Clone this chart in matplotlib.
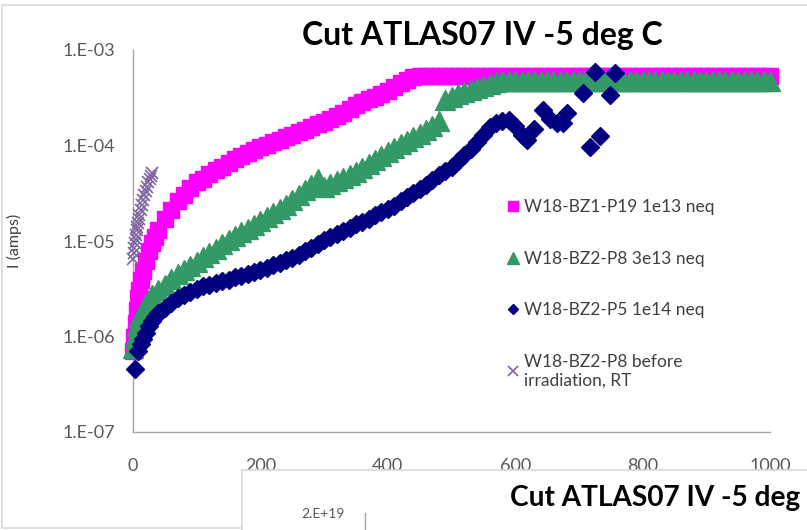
import matplotlib
matplotlib.use("Agg")
import matplotlib.pyplot as plt
from matplotlib.patches import Rectangle
from matplotlib.lines import Line2D

# данные
# W18-BZ1-P19 1e13 neq
v_p19 = [0, 2, 4, 6, 8, 10, 13, 16, 20, 25, 30, 35, 40, 50, 60, 70, 80, 90, 100,
         110, 120, 130, 140, 150, 160, 170, 180, 190, 200, 210, 220, 230, 240, 250,
         260, 270, 280, 290, 300, 310, 320, 330, 340, 350, 360, 370, 380, 390, 400,
         410, 420, 430, 440, 450, 460, 470, 480, 490, 500, 510, 520, 530, 540, 550,
         560, 570, 580, 590, 600, 610, 620, 630, 640, 650, 660, 670, 680, 690, 700,
         710, 720, 730, 740, 750, 760, 770, 780, 790, 800, 810, 820, 830, 840, 850,
         860, 870, 880, 890, 900, 910, 920, 930, 940, 950, 960, 970, 980, 990, 1000]
i_p19 = [7.0e-7, 1.0e-6, 1.4e-6, 1.9e-6, 2.5e-6, 3.1e-6, 3.9e-6, 4.8e-6, 6.2e-6, 7.8e-6,
         9.5e-6, 1.1e-5, 1.3e-5, 1.7e-5, 2.1e-5, 2.6e-5, 3.0e-5, 3.6e-5, 4.1e-5,
         4.5e-5, 5.0e-5, 5.5e-5, 6.0e-5, 6.6e-5, 7.2e-5, 7.8e-5, 8.4e-5, 9.0e-5, 9.6e-5,
         1.02e-4, 1.08e-4, 1.15e-4, 1.22e-4, 1.30e-4, 1.38e-4, 1.47e-4, 1.56e-4, 1.66e-4,
         1.78e-4, 1.90e-4, 2.04e-4, 2.20e-4, 2.40e-4, 2.65e-4, 2.85e-4, 3.05e-4, 3.25e-4,
         3.50e-4, 3.75e-4, 4.10e-4, 4.50e-4, 4.90e-4, 5.20e-4, 5.35e-4, 5.35e-4, 5.35e-4,
         5.35e-4, 5.35e-4, 5.35e-4, 5.35e-4, 5.35e-4, 5.35e-4, 5.35e-4, 5.35e-4, 5.35e-4,
         5.35e-4, 5.35e-4, 5.35e-4, 5.35e-4, 5.35e-4, 5.35e-4, 5.35e-4, 5.35e-4, 5.35e-4,
         5.35e-4, 5.35e-4, 5.35e-4, 5.35e-4, 5.35e-4, 5.35e-4, 5.35e-4, 5.35e-4, 5.35e-4,
         5.35e-4, 5.35e-4, 5.35e-4, 5.35e-4, 5.35e-4, 5.35e-4, 5.35e-4, 5.35e-4, 5.35e-4,
         5.35e-4, 5.35e-4, 5.35e-4, 5.35e-4, 5.35e-4, 5.35e-4, 5.35e-4, 5.35e-4, 5.35e-4,
         5.35e-4, 5.35e-4, 5.35e-4, 5.35e-4, 5.35e-4, 5.35e-4, 5.35e-4, 5.35e-4]

# W18-BZ2-P8 3e13 neq
v_p8 = [0, 3, 6, 10, 15, 20, 25, 30, 40, 50, 60, 70, 80, 90, 100, 110, 120, 130, 140,
        150, 160, 170, 180, 190, 200, 210, 220, 230, 240, 250, 260, 270, 280, 290, 300,
        310, 320, 330, 340, 350, 360, 370, 380, 390, 400, 410, 420, 430, 440, 450, 460,
        470, 480, 490, 500, 510, 520, 530, 540, 550, 560, 570, 580, 590, 600, 610, 620,
        630, 640, 650, 660, 670, 680, 690, 700, 710, 720, 730, 740, 750, 760, 770, 780,
        790, 800, 810, 820, 830, 840, 850, 860, 870, 880, 890, 900, 910, 920, 930, 940,
        950, 960, 970, 980, 990, 1000]
i_p8 = [7.5e-7, 1.0e-6, 1.3e-6, 1.6e-6, 1.9e-6, 2.2e-6, 2.4e-6, 2.7e-6, 3.1e-6, 3.5e-6,
        4.0e-6, 4.5e-6, 5.0e-6, 5.5e-6, 6.1e-6, 6.8e-6, 7.5e-6, 8.3e-6, 9.2e-6, 1.02e-5,
        1.12e-5, 1.23e-5, 1.35e-5, 1.48e-5, 1.62e-5, 1.78e-5, 1.95e-5, 2.15e-5, 2.40e-5,
        2.70e-5, 3.00e-5, 3.40e-5, 3.90e-5, 4.50e-5, 3.70e-5, 3.95e-5, 4.25e-5, 4.55e-5,
        4.90e-5, 5.30e-5, 5.80e-5, 6.40e-5, 7.00e-5, 7.80e-5, 8.60e-5, 9.40e-5, 1.03e-4,
        1.12e-4, 1.22e-4, 1.33e-4, 1.45e-4, 1.60e-4, 1.80e-4, 3.00e-4, 3.25e-4, 3.45e-4,
        3.60e-4, 3.80e-4, 4.00e-4, 4.20e-4, 4.40e-4, 4.60e-4, 4.75e-4, 4.75e-4, 4.75e-4,
        4.75e-4, 4.75e-4, 4.75e-4, 4.75e-4, 4.75e-4, 4.75e-4, 4.75e-4, 4.75e-4, 4.75e-4,
        4.75e-4, 4.75e-4, 4.75e-4, 4.75e-4, 4.75e-4, 4.75e-4, 4.75e-4, 4.75e-4, 4.75e-4,
        4.75e-4, 4.75e-4, 4.75e-4, 4.75e-4, 4.75e-4, 4.75e-4, 4.75e-4, 4.75e-4, 4.75e-4,
        4.75e-4, 4.75e-4, 4.75e-4, 4.75e-4, 4.75e-4, 4.75e-4, 4.75e-4, 4.75e-4, 4.75e-4,
        4.75e-4, 4.75e-4, 4.75e-4, 4.75e-4]

# W18-BZ2-P5 1e14 neq
v_p5 = [3, 8, 12, 16, 20, 25, 30, 35, 40, 50, 60, 70, 80, 90, 100, 110, 120, 130, 140,
        150, 160, 170, 180, 190, 200, 210, 220, 230, 240, 250, 260, 270, 280, 290, 300,
        310, 320, 330, 340, 350, 360, 370, 380, 390, 400, 410, 420, 430, 440, 450, 460,
        470, 480, 490, 500, 510, 520, 530, 540, 550, 560, 570, 580, 590, 600, 610, 618,
        630, 643, 655, 665, 675, 681, 706, 717, 725, 733, 749, 757]
i_p5 = [4.6e-7, 7.0e-7, 8.3e-7, 9.5e-7, 1.1e-6, 1.3e-6, 1.45e-6, 1.6e-6, 1.75e-6, 2.0e-6,
        2.25e-6, 2.5e-6, 2.75e-6, 2.95e-6, 3.15e-6, 3.35e-6, 3.5e-6, 3.65e-6, 3.8e-6,
        3.95e-6, 4.15e-6, 4.35e-6, 4.55e-6, 4.75e-6, 5.0e-6, 5.25e-6, 5.55e-6, 5.9e-6,
        6.3e-6, 6.7e-6, 7.2e-6, 7.8e-6, 8.5e-6, 9.3e-6, 1.02e-5, 1.1e-5, 1.18e-5, 1.27e-5,
        1.38e-5, 1.5e-5, 1.6e-5, 1.72e-5, 1.85e-5, 2.0e-5, 2.15e-5, 2.35e-5, 2.6e-5,
        2.9e-5, 3.2e-5, 3.5e-5, 3.9e-5, 4.4e-5, 4.9e-5, 5.4e-5, 6.0e-5, 6.8e-5, 8.0e-5,
        9.3e-5, 1.1e-4, 1.3e-4, 1.55e-4, 1.7e-4, 1.8e-4, 1.85e-4, 1.6e-4, 1.3e-4, 1.15e-4,
        1.5e-4, 2.35e-4, 1.9e-4, 1.7e-4, 1.7e-4, 2.2e-4, 3.55e-4, 9.7e-5, 5.9e-4, 1.25e-4,
        3.4e-4, 5.7e-4]

# W18-BZ2-P8 before irradiation, RT
v_rt = [0, 1, 2, 3, 4, 5, 6, 7, 8, 9, 10, 12, 14, 16, 18, 20, 22, 24, 26, 28, 30]
i_rt = [6.5e-6, 7.5e-6, 8.5e-6, 9.5e-6, 1.05e-5, 1.15e-5, 1.3e-5, 1.4e-5, 1.55e-5,
        1.7e-5, 1.85e-5, 2.1e-5, 2.4e-5, 2.7e-5, 3.0e-5, 3.3e-5, 3.7e-5, 4.1e-5,
        4.5e-5, 4.8e-5, 5.2e-5]

labels = ["W18-BZ1-P19 1e13 neq", "W18-BZ2-P8 3e13 neq", "W18-BZ2-P5 1e14 neq",
          "W18-BZ2-P8 before\nirradiation, RT"]
yticks = [1e-7, 1e-6, 1e-5, 1e-4, 1e-3]
yticklabels = ["1.E-07", "1.E-06", "1.E-05", "1.E-04", "1.E-03"]
xticks = [0, 200, 400, 600, 800, 1000]

plt.rcParams['font.family'] = ['Lato', 'DejaVu Sans']
W, H = 807, 530
fig = plt.figure(figsize=(W / 100, H / 100), dpi=100)

# рамка первой диаграммы
fig.add_artist(Rectangle((2 / W, 1 - 528 / H), 1.0, 523 / H, transform=fig.transFigure,
                         facecolor='white', edgecolor='#d9d9d9', lw=1.2, zorder=-5))

ax = fig.add_axes([133 / W, 1 - 432 / H, 637 / W, 382 / H])
ax.set_yscale('log')
ax.set_xlim(0, 1000)
ax.set_ylim(1e-7, 1e-3)

ax.plot(v_p19, i_p19, ls='none', marker='s', ms=12, color='#ff00ff', clip_on=False, zorder=3)
ax.plot(v_p8, i_p8, ls='none', marker='^', ms=14, color='#339966', clip_on=False, zorder=4)
ax.plot(v_p5, i_p5, ls='none', marker='D', ms=9.5, color='#000080', clip_on=False, zorder=5)
ax.plot(v_rt, i_rt, ls='none', marker='x', ms=9, mew=1.2, color='#8064a2', clip_on=False, zorder=6)

ax.set_yticks(yticks)
ax.set_yticklabels(yticklabels)
ax.yaxis.set_minor_locator(matplotlib.ticker.NullLocator())
ax.set_xticks(xticks)
ax.set_xticklabels([str(x) for x in xticks])
ax.tick_params(axis='both', length=0, colors='#595959', labelsize=13)
ax.tick_params(axis='x', pad=19)
ax.tick_params(axis='y', pad=13)
for s in ['top', 'right']:
    ax.spines[s].set_visible(False)
for s in ['left', 'bottom']:
    ax.spines[s].set_color('#a6a6a6')
    ax.spines[s].set_linewidth(1.0)

ax.set_ylabel("I (amps)", fontsize=11.5, color='#404040', labelpad=0)
ax.yaxis.set_label_coords(-111 / 637, 0.5)

fig.text(482 / W, 1 - 35 / H, "Cut ATLAS07 IV -5 deg C", ha='center', va='center',
         fontsize=23, fontweight='bold', color='black')

handles = [Line2D([], [], ls='none', marker='s', ms=7, color='#ff00ff'),
           Line2D([], [], ls='none', marker='^', ms=8, color='#339966'),
           Line2D([], [], ls='none', marker='D', ms=5, color='#000080'),
           Line2D([], [], ls='none', marker='x', ms=7, mew=1.2, color='#8064a2')]
leg = fig.legend(handles, labels, loc='upper left', bbox_to_anchor=(508 / W, 1 - 199 / H),
                 frameon=False, fontsize=12.5, labelspacing=2.05, handlelength=0.6,
                 handletextpad=0.3, borderpad=0, borderaxespad=0)
for t in leg.get_texts():
    t.set_color('#404040')

# вторая диаграмма, выглядывающая снизу
fig.add_artist(Rectangle((242 / W, -0.05), 1.0, 0.05 + 60 / H, transform=fig.transFigure,
                         facecolor='white', edgecolor='#d9d9d9', lw=1.2, zorder=5))
fig.text(510 / W, 1 - 498 / H, "Cut ATLAS07 IV -5 deg", ha='left', va='center',
         fontsize=20.2, fontweight='bold', color='black', zorder=6)
fig.text(323 / W, 1 - 514 / H, "2.E+19", ha='center', va='center', fontsize=10,
         color='#595959', zorder=6)
fig.add_artist(Line2D([365 / W, 365 / W], [0, 1 - 513 / H], transform=fig.transFigure,
                      color='#a6a6a6', lw=1.0, zorder=6))

fig.savefig("out.png", dpi=100)
